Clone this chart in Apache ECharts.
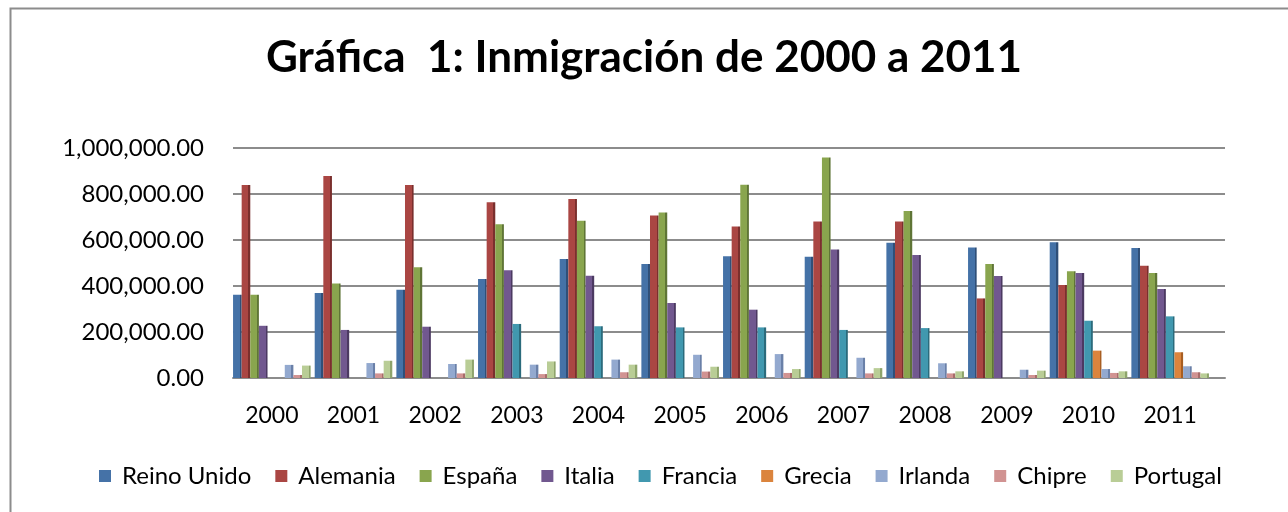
<!DOCTYPE html>
<html>
<head>
<meta charset="utf-8">
<script src="https://cdn.jsdelivr.net/npm/echarts@6/dist/echarts.min.js"></script>
<style>
html,body{margin:0;padding:0;background:#fff;}
#chart{width:1288px;height:512px;}
</style>
</head>
<body>
<div id="chart"></div>
<script>
const categories = ['2000','2001','2002','2003','2004','2005','2006','2007','2008','2009','2010','2011'];
const seriesNames = ['Reino Unido','Alemania','España','Italia','Francia','Grecia','Irlanda','Chipre','Portugal'];
const reinoUnido = [362000,370000,384000,430000,517000,496000,529000,527000,588000,567000,590000,565000];
const alemania   = [839000,878000,839000,764000,778000,706000,659000,680000,680000,346000,404000,488000];
const espana     = [362000,411000,481000,669000,684000,720000,840000,959000,726000,496000,464000,456000];
const italia     = [227000,209000,223000,469000,445000,326000,297000,559000,535000,443000,456000,387000];
const francia    = [0,0,0,235000,225000,220000,220000,209000,217000,0,249000,268000];
const grecia     = [0,0,0,0,0,0,0,0,0,0,119000,112000];
const irlanda    = [57000,65000,61000,58000,80000,101000,104000,88000,64000,36000,39000,51000];
const chipre     = [13000,20000,20000,17000,25000,28000,22000,20000,20000,13000,22000,25000];
const portugal   = [54000,75000,80000,72000,58000,49000,39000,43000,29000,32000,29000,20000];

const seriesData = [reinoUnido, alemania, espana, italia, francia, grecia, irlanda, chipre, portugal];
const colors = ['#4572A7','#AA4643','#89A54E','#71588F','#4198AF','#DB843D','#93A9CF','#D19392','#B9CD96'];
const sideColors = ['#2f4f78','#7a2f2d','#5f7536','#4c3a62','#2b6b7c','#a85e22','#6a80a8','#a86c6b','#8ea46b'];
const FONT = 'Lato, "Open Sans", sans-serif';

const chart = echarts.init(document.getElementById('chart'));
const option = {
  animation: false,
  backgroundColor: '#fff',
  color: colors,
  title: {
    text: 'Gráfica  1: Inmigración de 2000 a 2011',
    left: 'center', top: 31,
    textStyle: {fontFamily: FONT, fontWeight: 'bold', fontSize: 44, color: '#000'}
  },
  legend: {
    data: seriesNames.map((n, i) => ({name: n, itemStyle: {color: colors[i]}})),
    top: 459, left: 94,
    itemWidth: 12, itemHeight: 12, itemGap: 24,
    icon: 'rect',
    textStyle: {fontFamily: FONT, fontSize: 24, color: '#000', padding: [0, 0, 0, 6]}
  },
  grid: [
    {left: 231, right: 77, top: 148, bottom: 134},
    {left: 233, right: 63, top: 148, bottom: 134}
  ],
  xAxis: [
    {type: 'category', gridIndex: 0, data: categories,
     axisLine: {show: false}, axisTick: {show: false},
     axisLabel: {fontFamily: FONT, fontSize: 23, color: '#000', margin: 26}},
    {type: 'category', gridIndex: 1, data: categories,
     axisLine: {show: true, lineStyle: {color: '#8c8c8c', width: 2}}, axisTick: {show: false},
     axisLabel: {show: false}}
  ],
  yAxis: [
    {type: 'value', gridIndex: 0, min: 0, max: 1000000, interval: 200000,
     axisLine: {show: false}, axisTick: {show: false}, splitLine: {show: false},
     axisLabel: {fontFamily: FONT, fontSize: 24, color: '#000', margin: 27, padding: [6, 0, 0, 0],
       formatter: v => v.toLocaleString('en-US', {minimumFractionDigits: 2, maximumFractionDigits: 2})}},
    {type: 'value', gridIndex: 1, min: 0, max: 1000000, interval: 200000,
     axisLine: {show: false}, axisTick: {show: false}, axisLabel: {show: false},
     splitLine: {show: true, lineStyle: {color: '#8c8c8c', width: 2}}}
  ],
  series: seriesNames.map((name, i) => ({
    name: name,
    type: 'bar',
    xAxisIndex: 0, yAxisIndex: 0,
    data: seriesData[i],
    barGap: '0%',
    barCategoryGap: '5%',
    itemStyle: {
      color: {
        type: 'linear', x: 0, y: 0, x2: 1, y2: 0,
        colorStops: [
          {offset: 0, color: colors[i]},
          {offset: 0.78, color: colors[i]},
          {offset: 0.78, color: sideColors[i]},
          {offset: 1, color: sideColors[i]}
        ]
      }
    }
  })),
  graphic: [
    {type: 'rect', left: 8, top: 6, shape: {x: 0, y: 0, width: 1400, height: 600},
     style: {fill: 'none', stroke: '#8c8c8c', lineWidth: 2}, silent: true, z: 100}
  ]
};
chart.setOption(option);
</script>
</body>
</html>
